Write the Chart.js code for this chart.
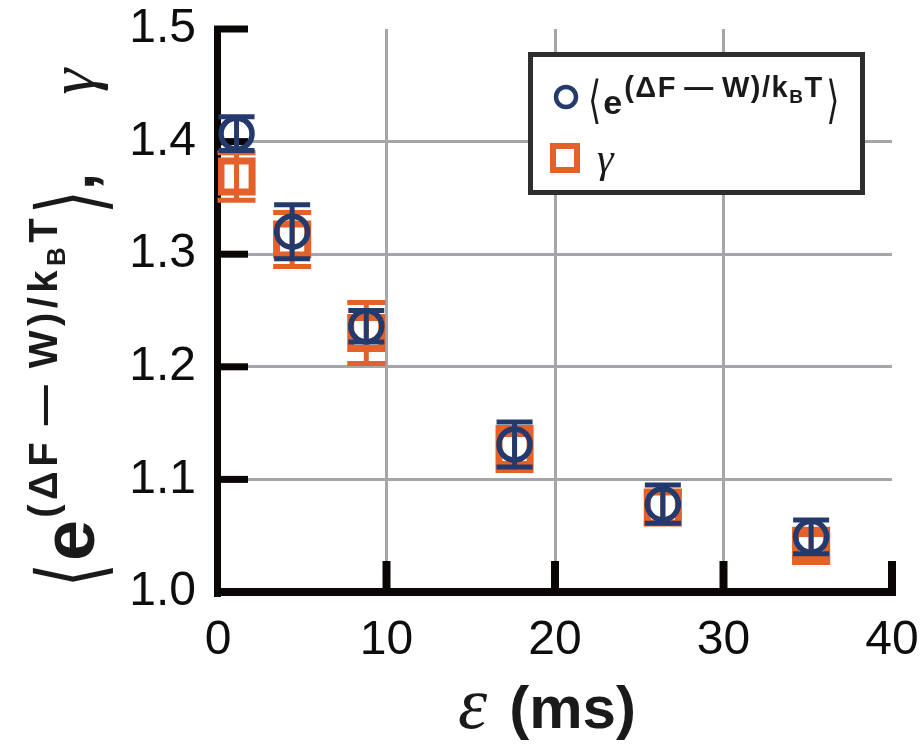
<!DOCTYPE html>
<html>
<head>
<meta charset="utf-8">
<script src="https://cdn.jsdelivr.net/npm/chart.js@4.4.0/dist/chart.umd.min.js"></script>
<style>
  html, body { margin: 0; padding: 0; background: #fff; }
  #wrap { width: 921px; height: 744px; }
</style>
</head>
<body>
<div id="wrap"><canvas id="chart" width="921" height="744"></canvas></div>
<script>
// switching time epsilon (ms)
const epsMs = [1.1, 4.4, 8.8, 17.6, 26.4, 35.2];
// <exp((dF-W)/kBT)> and its error
const expAvg = [1.407, 1.320, 1.236, 1.131, 1.078, 1.049];
const expErr = [0.015, 0.024, 0.014, 0.020, 0.017, 0.015];
// gamma and its error
const gamma = [1.369, 1.313, 1.230, 1.127, 1.075, 1.041];
const gammaErr = [0.021, 0.024, 0.027, 0.019, 0.014, 0.010];

const xTicks = [0, 10, 20, 30, 40];
const yTicks = [1.0, 1.1, 1.2, 1.3, 1.4, 1.5];

const NAVY = "#243a6c";
const ORANGE = "#e3622b";
const SANS = '"Liberation Sans", Arial, sans-serif';
const SERIF = '"Liberation Serif", "Times New Roman", serif';
const BRACKET = '"DejaVu Sans", sans-serif';

const errors = [
    { err: expErr, color: NAVY, cap: 36, width: 5 },
    { err: gammaErr, color: ORANGE, cap: 38, width: 5 }
];

// runs of text drawn one after another on a shared baseline;
// sy stretches a run vertically, ls is letter spacing
const expRuns = (sE, sSup, sSub, sB, sy, ls) => [
    { text: "\u27E8", font: `${sB}px ${BRACKET}`, dy: sE * 0.1, sy: sy, gap: 2 },
    { text: "e", font: `bold ${sE}px ${SANS}`, gap: 2 },
    { text: "(\u0394F\u2009\u2014\u2009W)/k", font: `bold ${sSup}px ${SANS}`, dy: -sE * 0.5, ls: ls },
    { text: "B", font: `bold ${sSub}px ${SANS}`, dy: -sE * 0.5 + sSup * 0.2, ls: ls },
    { text: "T", font: `bold ${sSup}px ${SANS}`, dy: -sE * 0.5, gap: 4 },
    { text: "\u27E9", font: `${sB}px ${BRACKET}`, dy: sE * 0.1, sy: sy }
];

const runWidth = (ctx, r) => {
    ctx.font = r.font;
    ctx.letterSpacing = (r.ls || 0) + "px";
    const w = ctx.measureText(r.text).width + (r.gap || 0);
    ctx.letterSpacing = "0px";
    return w;
};

const runsWidth = (ctx, runs) => runs.reduce((w, r) => w + runWidth(ctx, r), 0);

const drawRuns = (ctx, runs, x, y) => {
    let cx = x;
    runs.forEach(r => {
        const w = runWidth(ctx, r);
        ctx.save();
        ctx.font = r.font;
        ctx.letterSpacing = (r.ls || 0) + "px";
        ctx.translate(cx, y + (r.dy || 0));
        ctx.scale(1, r.sy || 1);
        ctx.fillText(r.text, 0, 0);
        ctx.restore();
        cx += w;
    });
};

const framePlugin = {
    id: "frame",
    // thick black axes with inward ticks, under the markers
    beforeDatasetsDraw(chart) {
        const { ctx, chartArea: a, scales: { x, y } } = chart;
        ctx.save();
        ctx.fillStyle = "#0a0606";
        ctx.fillRect(a.left - 4, a.top - 3, 7, a.bottom - a.top + 8);
        ctx.fillRect(a.left - 4, a.bottom - 4, a.right - a.left + 8, 8);
        yTicks.slice(1).forEach(v => {
            const py = y.getPixelForValue(v);
            ctx.fillRect(a.left - 4, py - 3.5, 34, 7);
        });
        xTicks.slice(1).forEach(v => {
            const px = x.getPixelForValue(v);
            ctx.fillRect(px - 4, a.bottom - 31, 8, 31);
        });
        ctx.restore();
    },
    // error bars on top of each series' markers
    afterDatasetDraw(chart, args) {
        const eb = errors[args.index];
        const { ctx, scales: { x, y } } = chart;
        const ds = chart.data.datasets[args.index].data;
        ctx.save();
        ctx.strokeStyle = eb.color;
        ctx.lineWidth = eb.width;
        ds.forEach((p, i) => {
            const px = x.getPixelForValue(p.x);
            const top = y.getPixelForValue(p.y + eb.err[i]);
            const bot = y.getPixelForValue(p.y - eb.err[i]);
            ctx.beginPath();
            ctx.moveTo(px, top);
            ctx.lineTo(px, bot);
            ctx.moveTo(px - eb.cap / 2, top);
            ctx.lineTo(px + eb.cap / 2, top);
            ctx.moveTo(px - eb.cap / 2, bot);
            ctx.lineTo(px + eb.cap / 2, bot);
            ctx.stroke();
        });
        ctx.restore();
    },
    afterDraw(chart) {
        const { ctx, chartArea: a } = chart;
        ctx.save();
        ctx.textBaseline = "alphabetic";

        // legend box
        ctx.fillStyle = "#fff";
        ctx.fillRect(530, 54, 333, 139);
        ctx.strokeStyle = "#2e2e2e";
        ctx.lineWidth = 5;
        ctx.strokeRect(530.5, 54.5, 332, 138);

        ctx.strokeStyle = NAVY;
        ctx.lineWidth = 4.5;
        ctx.beginPath();
        ctx.arc(566, 97, 10, 0, Math.PI * 2);
        ctx.stroke();
        ctx.strokeStyle = ORANGE;
        ctx.lineWidth = 6;
        ctx.strokeRect(553, 146, 24, 24);

        ctx.fillStyle = "#1a1a1a";
        drawRuns(ctx, expRuns(34, 29, 19, 34, 1.5, 1.5), 588, 114);
        ctx.font = `italic 42px ${SERIF}`;
        ctx.fillText("\u03B3", 597, 172);

        // y axis title, rotated
        const yRuns = expRuns(74, 40, 26, 62, 1.45, 4.5).concat([
            { text: ",", font: `bold 62px ${SANS}`, gap: 78 },
            { text: "\u03B3", font: `italic 66px ${SERIF}` }
        ]);
        const w = runsWidth(ctx, yRuns);
        ctx.save();
        ctx.translate(94, 328);
        ctx.rotate(-Math.PI / 2);
        drawRuns(ctx, yRuns, -w / 2, 0);
        ctx.restore();

        // x axis title
        const xRuns = [
            { text: "\u03B5", font: `italic 74px ${SERIF}`, gap: 22 },
            { text: "(ms)", font: `bold 60px ${SANS}` }
        ];
        const xw = runsWidth(ctx, xRuns);
        drawRuns(ctx, xRuns, 547 - xw / 2, 728);
        ctx.restore();
    }
};

const ctx = document.getElementById("chart").getContext("2d");

new Chart(ctx, {
    type: "scatter",
    data: {
        datasets: [
            {
                label: "<e^((dF-W)/kBT)>",
                data: epsMs.map((v, i) => ({ x: v, y: expAvg[i] })),
                pointStyle: "circle",
                pointRadius: 15.5,
                borderWidth: 5.5,
                borderColor: NAVY,
                backgroundColor: "rgba(0,0,0,0)"
            },
            {
                label: "gamma",
                data: epsMs.map((v, i) => ({ x: v, y: gamma[i] })),
                pointStyle: "rect",
                pointRadius: 22,
                borderWidth: 7,
                borderColor: ORANGE,
                backgroundColor: "#fff"
            }
        ]
    },
    options: {
        responsive: false,
        animation: false,
        devicePixelRatio: 1,
        layout: { padding: { top: 28, right: 26, left: 0, bottom: 0 } },
        plugins: { legend: { display: false }, tooltip: { enabled: false } },
        scales: {
            x: {
                type: "linear",
                min: 0,
                max: 40,
                afterFit: s => {
                    s.height = 152;
                    s.paddingLeft = 0;
                    s.paddingRight = 0;
                },
                afterBuildTicks: s => { s.ticks = xTicks.map(v => ({ value: v })); },
                border: { display: false },
                grid: {
                    drawTicks: false,
                    lineWidth: 3,
                    color: c => (c.tick && (c.tick.value === 0 || c.tick.value === 40)) ? "rgba(0,0,0,0)" : "#a6a6aa"
                },
                ticks: { padding: 20, color: "#0d0d0d", font: { family: SANS, size: 48 } }
            },
            y: {
                type: "linear",
                min: 1.0,
                max: 1.5,
                afterFit: s => {
                    s.width = 218;
                    s.paddingTop = 0;
                    s.paddingBottom = 0;
                },
                afterBuildTicks: s => { s.ticks = yTicks.map(v => ({ value: v })); },
                border: { display: false },
                grid: {
                    drawTicks: false,
                    lineWidth: 3,
                    color: c => (c.tick && (Math.abs(c.tick.value - 1.0) < 1e-6 || Math.abs(c.tick.value - 1.5) < 1e-6)) ? "rgba(0,0,0,0)" : "#a6a6aa"
                },
                ticks: {
                    padding: 22,
                    color: "#0d0d0d",
                    font: { family: SANS, size: 48 },
                    callback: v => v.toFixed(1)
                }
            }
        }
    },
    plugins: [framePlugin]
});
</script>
</body>
</html>
